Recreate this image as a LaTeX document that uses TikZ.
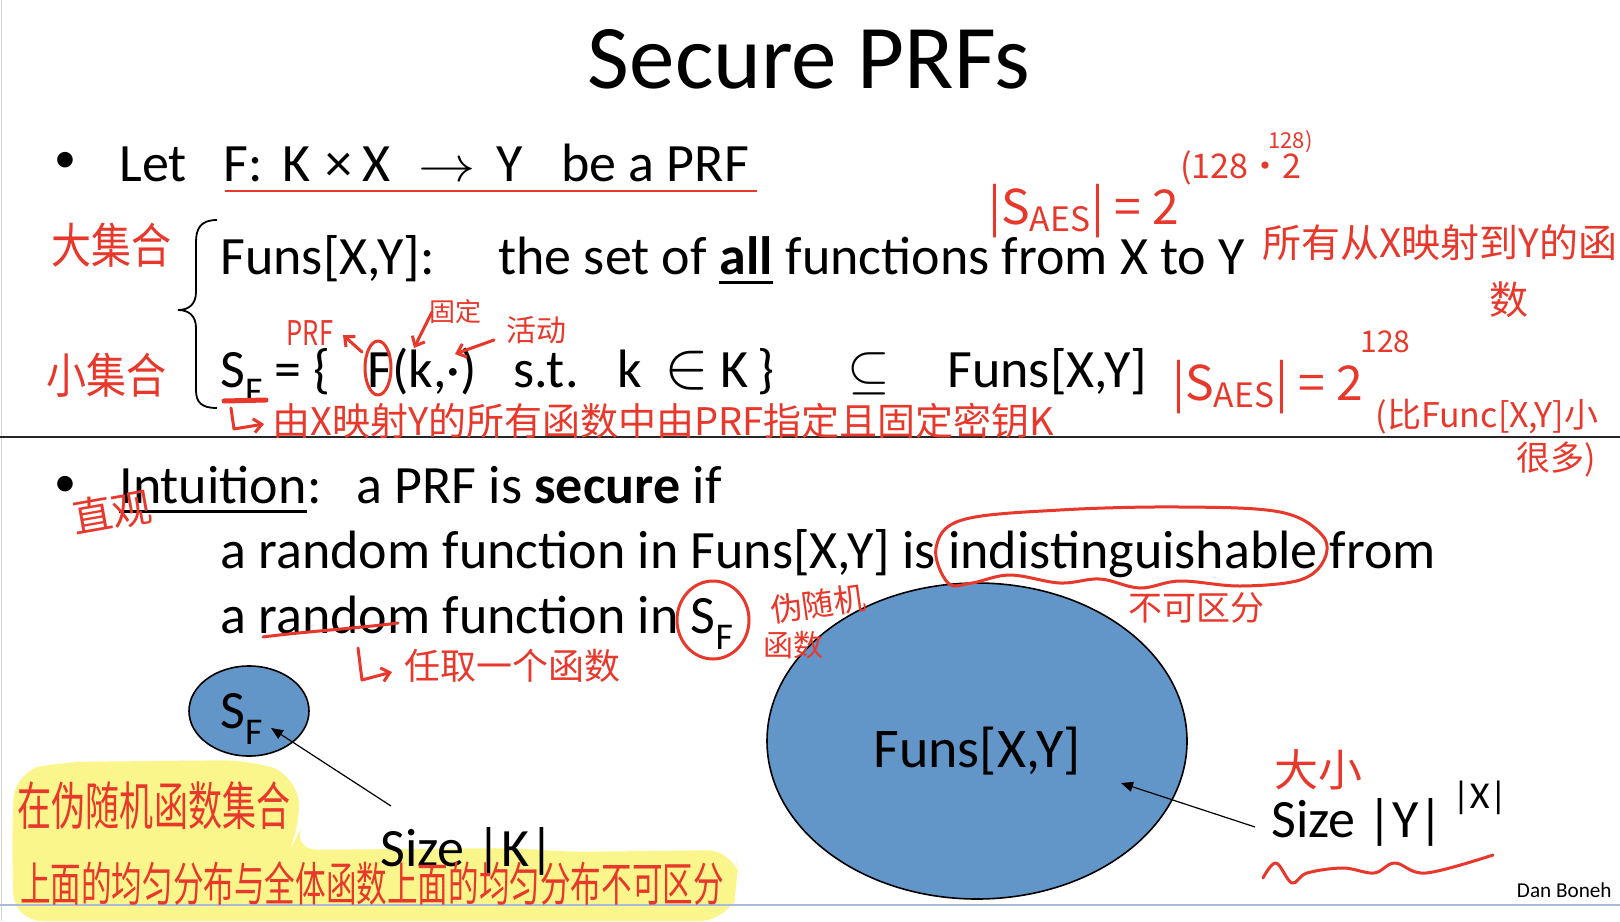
\documentclass[tikz,border=0pt]{standalone}
\usepackage{fontspec}
\usepackage{graphicx}
\setmainfont{Carlito}
\newfontfamily\cjk{Noto Sans CJK SC}
\usetikzlibrary{arrows.meta,shapes.geometric}
\definecolor{hred}{HTML}{E8382B}
\definecolor{sblue}{HTML}{6396C8}
\definecolor{hyel}{HTML}{FBF68C}
\definecolor{bline}{HTML}{A8BBD8}
\newcommand\lowsub[1]{\raisebox{-0.3em}{\scalebox{0.7}{#1}}}
\begin{document}
\begin{tikzpicture}[x=0.5pt,y=-0.5pt,
  every node/.style={inner sep=0pt},
  body/.style={anchor=base west,font=\fontsize{27}{32}\selectfont},
  note/.style={text=hred,font=\cjk\fontsize{18}{20}\selectfont},
  ink/.style={draw=hred,line width=1.5pt,line cap=round,line join=round},
  inkarrow/.style={ink,-{Straight Barb[length=4pt,width=7pt]}},
  ptr/.style={draw=black,line width=0.6pt,-{Triangle[length=6pt,width=5pt]}},
  setshape/.style={ellipse,draw=black,line width=0.8pt,fill=sblue}]
\useasboundingbox (0,0) rectangle (1620,921);
\fill[white] (0,0) rectangle (1620,921);
\draw[gray!35,line width=0.8pt] (1.5,0) -- (1.5,921);
% yellow highlighter
\fill[hyel,rounded corners=14pt] (14,772) -- (60,762) -- (250,760) -- (298,776) -- (300,830) -- (290,850) -- (520,848) -- (560,852) -- (735,850) -- (740,885) -- (728,921) -- (14,921) -- (12,850) -- cycle;
\draw[bline,line width=1.2pt] (0,905) -- (1620,905);
% title
\node[anchor=base,font=\fontsize{45.5}{50}\selectfont] (title) at (809,88) {Secure PRFs};
% line 1
\node[font=\fontsize{22}{26}\selectfont] (b1) at (65,162) {\textbullet};
\node[body] (let) at (119,181) {Let};
\node[body] (fm) at (223,181) {F:};
\node[body] (k1) at (282,181) {K};
\node[body] (tm) at (325,181) {×};
\node[body] (x1) at (362,181) {X};
\node[body] (ar) at (418,181) {\scalebox{1.15}[1]{$\rightarrow$}};
\node[body] (y1) at (496,181) {Y};
\node[body] (prf) at (561,181) {be a PRF};
\draw[hred,line width=1pt] (225,191) -- (757,191);
% brace
\draw[line width=0.9pt] (217,220) .. controls (201,220) and (196,228) .. (196,242) -- (196,292) .. controls (196,304) and (189,310) .. (178,310) .. controls (189,310) and (196,316) .. (196,328) -- (196,390) .. controls (196,402) and (201,408) .. (217,408);
% line 2
\node[body] (funs1) at (220,274) {Funs[X,Y]:};
\node[body] (setof) at (498,274) {the set of};
\node[body,font=\fontsize{27}{32}\selectfont\bfseries] (all) at ([xshift=6pt]setof.base east) {all};
\node[body] (fxy) at ([xshift=6pt]all.base east) {functions from X to Y};
\draw[line width=1.5pt] ([yshift=-4pt]all.base west) -- ([yshift=-4pt]all.base east);
% line 3
\node[body] (sf1) at (220,387) {S\lowsub{F} = \{};
\node[body] (fk) at (367,387) {F(k,·)};
\node[body] (st) at (513,387) {s.t.};
\node[body] (kk) at (617,387) {k};
\node[body] (in) at (664,387) {\scalebox{1.35}{$\in$}};
\node[body] (kK) at (720,387) {K};
\node[body] (rb) at (757,387) {\}};
\node[body] (sub) at (847,387) {\scalebox{1.1}{$\subseteq$}};
\node[body] (funs2) at (947,387) {Funs[X,Y]};
% separator
\draw[black!85,line width=0.9pt] (0,437) -- (1620,437);
% line 4
\node[font=\fontsize{22}{26}\selectfont] (b2) at (65,486) {\textbullet};
\node[body] (intu) at (119,503) {Intuition};
\node[body] (colon) at (intu.base east) {:};
\draw[line width=1.5pt] ([yshift=-4pt]intu.base west) -- ([yshift=-4pt]intu.base east);
\node[body] (prfsec) at (356,503) {a PRF is \textbf{secure} if};
% line 5, 6
\node[body] (l5) at (220,568) {a random function in Funs[X,Y] is indistinguishable from};
\node[body] (l6) at (220,633) {a random function in S\lowsub{F}};
% sets
\node[setshape,minimum width=60pt,minimum height=45pt] (sfell) at (249,711) {};
\node[body] (sflab) at (220,728) {S\lowsub{F}};
\node[setshape,minimum width=210pt,minimum height=158pt] (funell) at (977,741) {};
\node[anchor=base,font=\fontsize{28}{32}\selectfont] (funlab) at (977,767) {Funs[X,Y]};
\node[body] (sizek) at (380,866) {Size |K|};
\node[body] (sizey) at (1271,837) {Size |Y|};
\node[anchor=base west,font=\fontsize{19}{20}\selectfont] (sizex) at (1452,808) {|X|};
\coordinate (ks) at (391,806);
\coordinate (kt) at (271,728);
\coordinate (ys) at (1255,827);
\coordinate (yt) at (1121,783);
\draw[ptr] (ks) -- (kt);
\draw[ptr] (ys) -- (yt);
\node[anchor=base east,font=\fontsize{10.6}{12}\selectfont] (dan) at (1612,897) {Dan Boneh};
% ---- handwritten annotations ----
\node[note,font=\cjk\fontsize{20}{22}\selectfont,yscale=1.2] (n1) at (111,245) {大集合};
\node[note,font=\cjk\fontsize{20}{22}\selectfont,yscale=1.2] (n2) at (106,375) {小集合};
\node[note,font=\cjk\fontsize{17}{20}\selectfont,xscale=0.75] (nprf) at (310,333) {PRF};
\draw[ink] (378,368) ellipse [x radius=13, y radius=27];
\coordinate (pa) at (362,352);
\coordinate (pb) at (343,335);
\draw[inkarrow] (pa) -- (pb);
\node[note,font=\cjk\fontsize{13}{14}\selectfont] (nfix) at (455,312) {固定};
\coordinate (fa) at (432,312);
\coordinate (fb) at (414,348);
\draw[inkarrow] (fa) -- (fb);
\node[note,font=\cjk\fontsize{15}{16}\selectfont] (nvar) at (536,330) {活动};
\coordinate (va) at (494,340);
\coordinate (vb) at (455,354);
\draw[inkarrow] (va) -- (vb);
\draw[hred,line width=2.5pt,line cap=round] (224,401) -- (266,400);
\coordinate (h1a) at (231,408);
\coordinate (h1b) at (264,424);
\draw[inkarrow] (h1a) -- (234,429) -- (h1b);
\node[note,anchor=west,font=\cjk\fontsize{19}{20}\selectfont] (nlong) at (272,421) {由X映射Y的所有函数中由PRF指定且固定密钥K};
\node[note,anchor=base west,font=\cjk\fontsize{24}{26}\selectfont] (aes1) at (988,224) {|S\textsubscript{AES}| = 2};
\node[note,anchor=base west,font=\cjk\fontsize{17}{20}\selectfont] (aes1e) at (1180,178) {(128·2};
\node[note,anchor=base west,font=\cjk\fontsize{11}{12}\selectfont] (aes1ee) at (1268,148) {128)};
\node[note,font=\cjk\fontsize{19.5}{22}\selectfont] (nall) at (1440,243) {所有从X映射到Y的函};
\node[note,font=\cjk\fontsize{19.5}{22}\selectfont] (nall2) at (1509,300) {数};
\node[note,anchor=base west,font=\cjk\fontsize{24}{26}\selectfont] (aes2) at (1172,400) {|S\textsubscript{AES}| = 2};
\node[note,anchor=base west,font=\cjk\fontsize{15}{16}\selectfont] (aes2e) at (1360,352) {128};
\node[note,font=\cjk\fontsize{17}{20}\selectfont] (nsm) at (1487,417) {(比Func[X,Y]小};
\node[note,font=\cjk\fontsize{17}{20}\selectfont] (nsm2) at (1556,460) {很多)};
\node[note,font=\cjk\fontsize{20}{22}\selectfont,rotate=10] (nint) at (112,512) {直观};
\draw[ink] plot[smooth cycle,tension=0.6] coordinates {(948,583) (936,548) (962,520) (1060,510) (1180,507) (1280,512) (1322,535) (1324,560) (1300,580) (1240,586) (1180,581) (1140,588) (1100,579) (1060,583) (1010,575) (972,583)};
\node[note,font=\cjk\fontsize{17}{20}\selectfont] (nind) at (1196,608) {不可区分};
\draw[ink] (713,620) ellipse [x radius=36, y radius=39];
\node[note,font=\cjk\fontsize{16}{18}\selectfont,rotate=8] (nps) at (818,604) {伪随机};
\node[note,font=\cjk\fontsize{15}{16}\selectfont] (nps2) at (793,645) {函数};
\draw[ink] (263,637) .. controls (300,632) and (360,628) .. (398,623);
\coordinate (h2a) at (358,648);
\coordinate (h2b) at (392,672);
\draw[inkarrow] (h2a) -- (362,680) -- (h2b);
\node[note,font=\cjk\fontsize{18}{20}\selectfont] (nany) at (512,666) {任取一个函数};
\node[note,font=\cjk\fontsize{22}{24}\selectfont] (nsize) at (1318,770) {大小};
\draw[ink] plot[smooth,tension=0.6] coordinates {(1263,878) (1276,863) (1292,883) (1307,873) (1343,868) (1374,873) (1395,863) (1426,873) (1493,855)};
\node[note,font=\cjk\fontsize{20}{22}\selectfont,xscale=0.85,yscale=1.3] (ny1) at (154,806) {在伪随机函数集合};
\node[note,font=\cjk\fontsize{18}{20}\selectfont,xscale=0.85,yscale=1.3] (ny2) at (372,884) {上面的均匀分布与全体函数上面的均匀分布不可区分};
\end{tikzpicture}
\end{document}
